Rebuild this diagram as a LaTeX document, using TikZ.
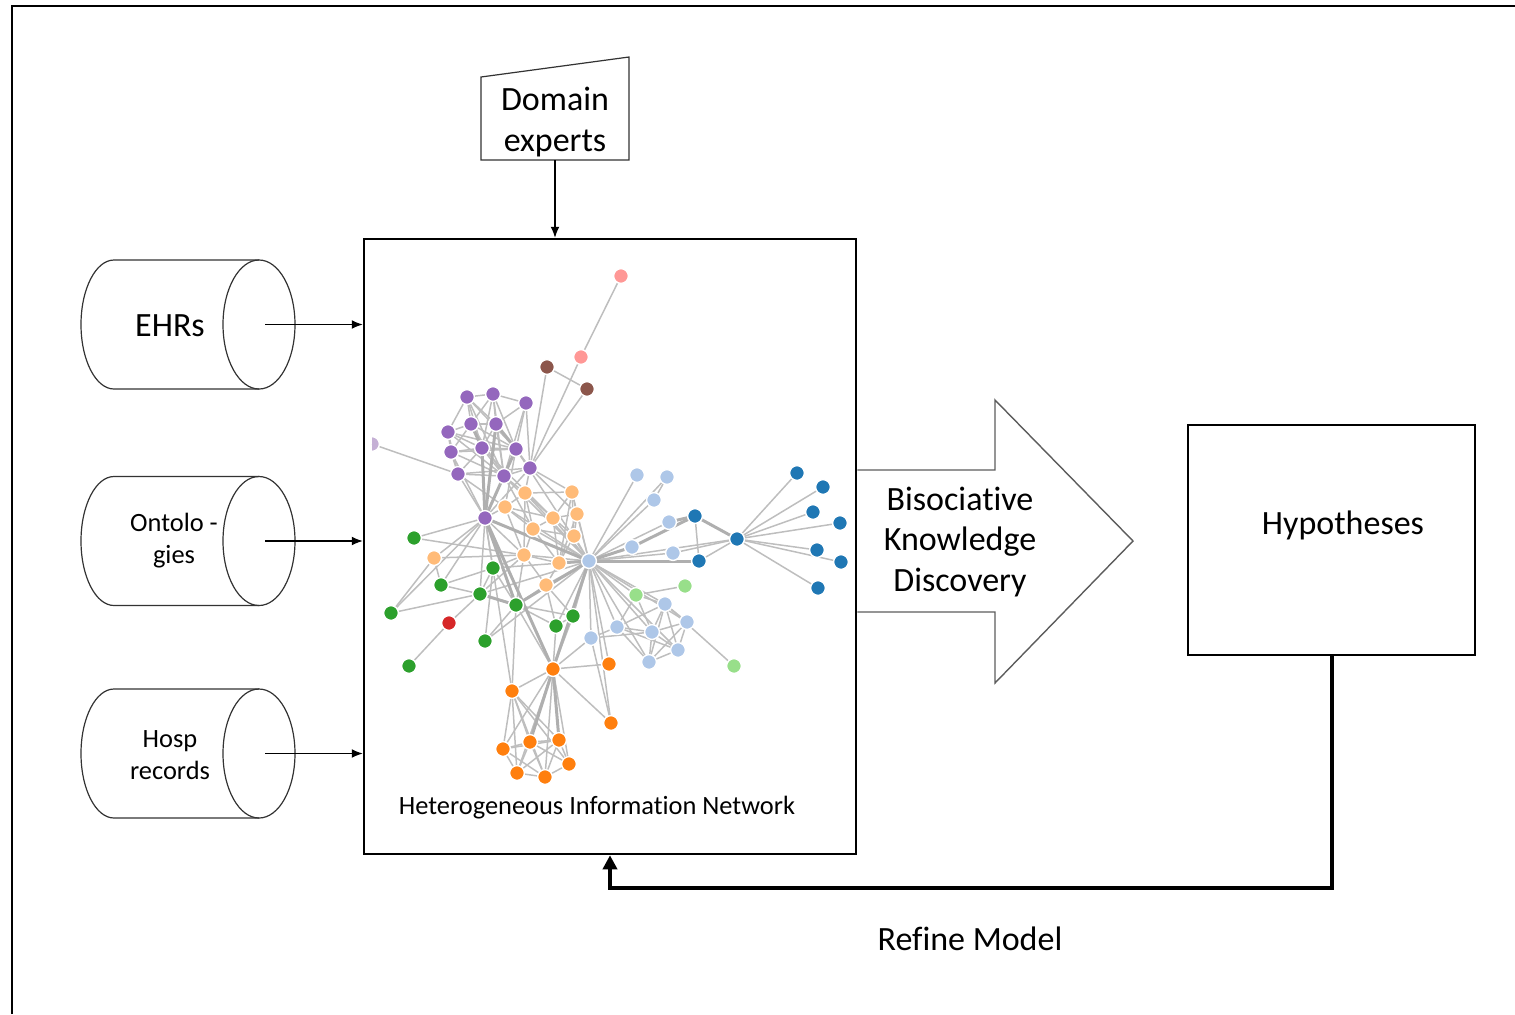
\documentclass[tikz,border=0pt]{standalone}
\usepackage{fontspec}
\setmainfont{Carlito}[Ligatures={NoCommon,NoRare,NoContextual}]
\usetikzlibrary{arrows.meta,backgrounds,calc}

\definecolor{cPurple}{HTML}{9467BD}
\definecolor{cLPurple}{HTML}{C5B0D5}
\definecolor{cBrown}{HTML}{8C564B}
\definecolor{cPink}{HTML}{FF9896}
\definecolor{cLOrange}{HTML}{FFBB78}
\definecolor{cOrange}{HTML}{FF7F0E}
\definecolor{cGreen}{HTML}{2CA02C}
\definecolor{cRed}{HTML}{D62728}
\definecolor{cLBlue}{HTML}{AEC7E8}
\definecolor{cBlue}{HTML}{1F77B4}
\definecolor{cLGreen}{HTML}{98DF8A}
\definecolor{edgegray}{HTML}{BEBEBE}
\definecolor{outline}{HTML}{333333}

% keep "t" and "i" as separate glyphs
\newcommand{\tisplit}{t\kern0pt i}

\tikzset{
  bigtext/.style={font=\fontsize{17}{20.3}\selectfont, align=center, inner sep=0},
  smalltext/.style={font=\fontsize{13.2}{16}\selectfont, align=center, inner sep=0},
  netpt/.style={circle, draw=white, line width=0.7pt, minimum size=7.4pt, inner sep=0},
  netedge/.style={draw=edgegray, line width=0.75pt},
  netheavy/.style={draw=edgegray!92!black, line width=1.5pt},
  thinarrow/.style={draw=black, line width=0.55pt, -{Latex[length=5.5pt,width=4.4pt]}},
  cylline/.style={draw=outline, line width=0.6pt},
}

\begin{document}
\begin{tikzpicture}[x=0.5pt,y=-0.5pt]
\useasboundingbox (0,0) rectangle (1515,1014);

% outer frame (top and left edges)
\draw[line width=1.2pt] (12,1014) -- (12,6) -- (1515,6);

% Heterogeneous information network panel
\node[draw=black, line width=1.25pt, minimum width=246pt, minimum height=307.5pt, inner sep=0] (hin) at (610,546.5) {};
\node[smalltext] (hinlabel) at (597,808) {Heterogeneous Informa\tisplit on Network};

% domain experts (manual input shape)
\draw[line width=0.6pt, draw=outline] (481,160) -- (481,77) -- (629,57) -- (629,160) -- cycle;
\node[bigtext] (experts) at (555,122) {Domain\\experts};
\coordinate (expertsout) at (555,160);
\draw[thinarrow] (expertsout) -- (expertsout |- hin.north);

% data-source cylinders
\foreach \nm/\cy in {ehr/324.5, onto/541, hosp/753.5}{
  \draw[cylline] (259,\cy-64.5) -- (114,\cy-64.5)
     arc[start angle=90, end angle=270, x radius=16.5pt, y radius=32.25pt] -- (259,\cy+64.5);
  \draw[cylline] (259,\cy) ellipse [x radius=18pt, y radius=32.25pt];
  \coordinate (\nm) at (265,\cy);
}
\node[bigtext] (ehrtext) at (170,326) {EHRs};
\node[smalltext] (ontotext) at (174,541) {Ontolo -\\gies};
\node[smalltext] (hosptext) at (170,755) {Hosp\\records};
\draw[thinarrow] (ehr) -- (ehr -| hin.west);
\draw[thinarrow] (onto) -- (onto -| hin.west);
\draw[thinarrow] (hosp) -- (hosp -| hin.west);

% knowledge discovery block arrow
\draw[draw=outline!80, line width=0.7pt, line join=miter]
  (hin.east |- 0,470) -- (995,470) -- (995,400) -- (1133,541) -- (995,683) -- (995,612) -- (hin.east |- 0,612);
\node[bigtext] (bkd) at (960,542) {Bisocia\tisplit ve\\Knowledge\\Discovery};

% hypotheses
\node[draw=black, line width=0.65pt, minimum width=143.5pt, minimum height=115pt, inner sep=0] (hyp) at (1331.5,540) {};
\node[bigtext] (hyptext) at (1343,525) {Hypotheses};

% feedback loop
\coordinate (fbcorner) at (610,888);
\draw[line width=2pt, -{Triangle[length=7pt,width=7pt]}] (hyp.south) |- (fbcorner) -- (hin.south);
\node[bigtext] (refine) at (970,939) {Refine Model};

% ---------------- network ----------------
\foreach \n/\x/\y in {u1/467/397, u2/493/394, u3/526/403, u4/471/424, u5/496/424, u6/448/432,
  u7/451/452, u8/482/448, u9/516/449, u10/458/474, u11/504/476, u12/530/468, u13/485/518}
  \node[netpt, fill=cPurple] (\n) at (\x,\y) {};
\foreach \n/\x/\y in {k1/621/276, k2/581/357}
  \node[netpt, fill=cPink] (\n) at (\x,\y) {};
\foreach \n/\x/\y in {b1/547/367, b2/587/389}
  \node[netpt, fill=cBrown] (\n) at (\x,\y) {};
\foreach \n/\x/\y in {o1/525/493, o2/572/492, o3/505/507, o4/553/518, o5/577/514, o6/533/529,
  o7/574/536, o8/524/555, o9/559/563, o10/546/585, o11/434/558}
  \node[netpt, fill=cLOrange] (\n) at (\x,\y) {};
\foreach \n/\x/\y in {g1/414/538, g2/493/568, g3/441/585, g4/480/594, g5/516/605, g6/391/613,
  g7/573/616, g8/556/626, g9/485/641, g10/409/666}
  \node[netpt, fill=cGreen] (\n) at (\x,\y) {};
\node[netpt, fill=cRed] (r1) at (449,623) {};
\foreach \n/\x/\y in {a1/553/669, a2/609/664, a3/512/691, a4/611/723, a5/503/749, a6/530/742,
  a7/559/740, a8/569/764, a9/517/773, a10/545/777}
  \node[netpt, fill=cOrange] (\n) at (\x,\y) {};
\foreach \n/\x/\y in {h/589/561, l1/637/475, l2/667/477, l3/654/500, l4/669/522, l5/632/547,
  l6/673/553, l7/665/604, l8/687/622, l9/617/627, l10/652/632, l11/591/638, l12/678/650, l13/649/662}
  \node[netpt, fill=cLBlue] (\n) at (\x,\y) {};
\foreach \n/\x/\y in {n1/636/595, n2/685/586, n3/734/666}
  \node[netpt, fill=cLGreen] (\n) at (\x,\y) {};
\foreach \n/\x/\y in {c1/695/516, c2/699/561, c3/737/539, c4/797/473, c5/823/487, c6/813/512,
  c7/840/523, c8/817/550, c9/841/562, c10/818/588}
  \node[netpt, fill=cBlue] (\n) at (\x,\y) {};
\begin{scope}
  \clip (372,430) rectangle (392,460);
  \node[netpt, fill=cLPurple] (q) at (372,444) {};
\end{scope}

\begin{scope}[on background layer]
  \foreach \a/\b in {k1/k2, k2/u12, b1/b2, b1/u12, b2/u12, q/u10,
    u1/u2, u2/u3, u1/u4, u1/u6, u1/u5, u2/u4, u2/u5, u2/u8, u3/u5, u3/u9, u3/u12, u4/u5, u4/u6,
    u4/u7, u4/u8, u5/u8, u5/u9, u5/u11, u6/u7, u6/u8, u7/u8, u7/u10, u8/u9, u8/u10, u8/u11,
    u9/u11, u9/u12, u10/u11, u11/u12, u1/u8, u6/u10, u2/u9, u4/u11, u5/u12, u3/u11, u6/u11, u1/u9,
    u10/u13, u11/u13, u12/u13, u7/u13, u12/o1, u12/o2, u11/o1, u9/o3, u10/o3, u12/o5, u8/o4,
    u11/o6, u13/g2, u13/g1, u13/g3, u13/o8, u13/o11, u13/g4, u13/o3, u13/g6,
    u4/u9, u6/u9, u7/u11, u1/u11, u2/u11, u7/u9, u10/u12,
    o1/o2, o1/o3, o1/o4, o1/o6, o2/o4, o2/o5, o2/o7, o3/o6, o3/o4, o4/o5, o4/o6, o4/o7, o5/o7,
    o6/o7, o6/o8, o7/o9, o8/o9, o4/o9, o6/o9, o5/o9, o8/o10, o9/o10, o1/o8, o3/o8, o2/o9,
    o5/h, o7/h, o8/h, o10/h, o4/h, o2/h, o6/h, o11/o8, o11/g3, g1/o8,
    g2/o8, g2/g4, g2/h, g3/g4, g3/g2, g4/o8, g4/r1, g4/g6, g4/h, g5/o10, g5/a1, g5/g2, g5/o8,
    g5/g7, g5/g8, g6/o11, g7/h, g7/g8, g7/a1, g7/o10, g8/h, g8/a1, g8/o10, g9/g2, g9/g5,
    g10/r1, a1/a2, a1/a3, a1/a4, a1/l11, a1/a5, a1/a8, a1/a9, a1/a10, a2/h, a4/l11,
    a3/g5, a3/u13, a3/a5, a3/a6, a3/a7, a3/a8, a3/a9, a3/a10,
    a5/a6, a5/a9, a6/a7, a6/a9, a6/a10, a7/a8, a7/a10, a8/a10, a9/a10, a5/a10, a6/a8, a5/a7, a7/a9,
    l1/h, l2/h, l3/h, l4/h, l6/h, l6/c3, h/c3, c1/c2, c2/c3, l3/l2,
    c3/c4, c3/c5, c3/c6, c3/c7, c3/c8, c3/c9, c3/c10,
    l7/h, l8/h, l9/h, l10/h, l11/h, l12/h, l13/h, n1/h, n2/n1, n3/l7,
    l7/l8, l7/l9, l7/l10, l7/l12, l7/l13, l8/l10, l8/l12, l8/l13, l9/l10, l9/l11, l9/l13,
    l10/l12, l10/l13, l12/l13, l9/l12, l11/l10, n1/l7, n1/l10, n1/l9,
    h/u9, h/u11, h/o1, h/o3, h/g9, h/a4}
    \draw[netedge] (\a.center) -- (\b.center);
  \foreach \a/\b in {u8/u13, u13/h, u13/g5, u13/a1, g4/g5, g5/h, o9/h, a1/h, a1/a6, a1/a7,
    l5/h, l4/c1, l5/c1, h/c2, c1/c3, u9/u13, u5/u13, u4/u8, u5/u9}
    \draw[netheavy] (\a.center) -- (\b.center);
\end{scope}

\end{tikzpicture}
\end{document}
